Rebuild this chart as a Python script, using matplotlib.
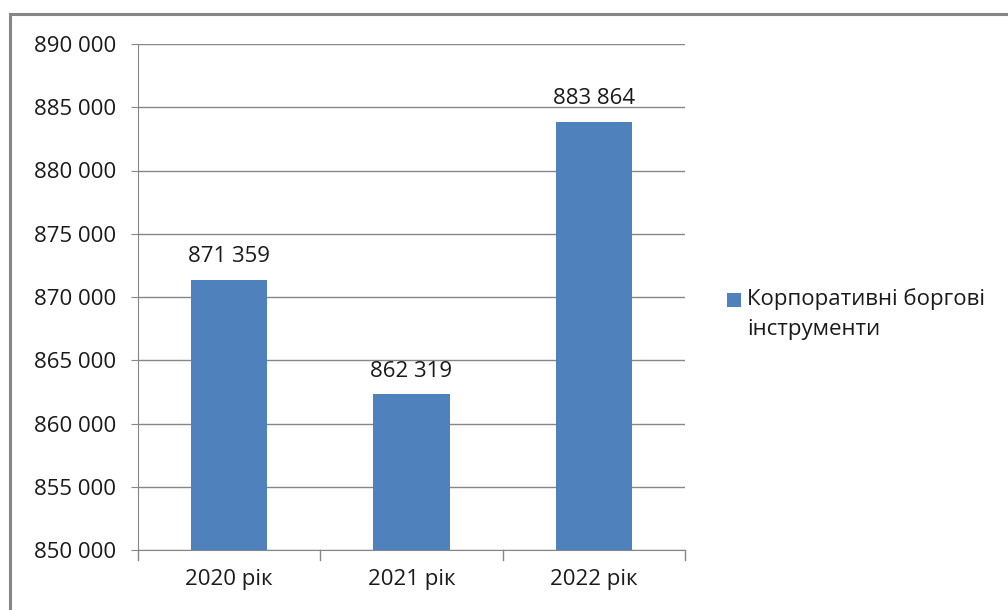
import matplotlib.pyplot as plt
import matplotlib.patches as patches

# Дані
roky = ['2020 рік', '2021 рік', '2022 рік']
znachennia = [871359, 862319, 883864]
seriia = 'Корпоративні боргові\nінструменти'
y_tiky = [850000, 855000, 860000, 865000, 870000, 875000, 880000, 885000, 890000]

plt.rcParams['font.family'] = ['Open Sans', 'DejaVu Sans']
sirij = '#868686'
sinij = '#4F81BD'
tekst = '#1a1a1a'
rozmir = 16

def formatuvaty(v):
    return f'{v:,}'.replace(',', ' ')

fig = plt.figure(figsize=(10.08, 6.1), dpi=100)
ax = fig.add_axes([138 / 1008, 1 - 550 / 610, (685 - 138) / 1008, (550 - 44) / 610])

# Рамка діаграми
ramka = patches.Rectangle((10 / 1008, -0.05), 1.2, 1 - 14 / 610 + 0.05,
                          transform=fig.transFigure, fill=False,
                          edgecolor=sirij, linewidth=2.2, clip_on=False)
fig.patches.append(ramka)

x = range(len(roky))
stovpci = ax.bar(x, znachennia, width=0.42, color=sinij, zorder=3, label=seriia)

for xi, v in zip(x, znachennia):
    ax.annotate(formatuvaty(v), (xi, v), xytext=(0, 9), textcoords='offset points',
                ha='center', va='bottom', fontsize=rozmir, color=tekst)

ax.set_ylim(850000, 890000)
ax.set_xlim(-0.5, 2.5)
ax.set_yticks(y_tiky)
ax.set_yticklabels([formatuvaty(v) for v in y_tiky], fontsize=rozmir, color=tekst)
ax.set_xticks(x)
ax.set_xticklabels(roky, fontsize=rozmir, color=tekst)
ax.tick_params(axis='x', length=0, pad=14)
ax.tick_params(axis='y', length=5, color=sirij, pad=11)

# Поділки між категоріями
for b in [-0.5, 0.5, 1.5, 2.5]:
    ax.plot([b, b], [0, -0.019], transform=ax.get_xaxis_transform(), color=sirij,
            linewidth=1, clip_on=False)

ax.grid(axis='y', color=sirij, linewidth=1, zorder=0)
for s in ['top', 'right']:
    ax.spines[s].set_visible(False)
ax.spines['left'].set_color(sirij)
ax.spines['bottom'].set_color(sirij)

# Легенда: квадрат навпроти першого рядка підпису
fig.patches.append(patches.Rectangle((727 / 1008, 1 - 307 / 610), 14 / 1008, 14 / 610,
                                     transform=fig.transFigure, facecolor=sinij,
                                     edgecolor='none'))
fig.text(747 / 1008, 1 - 288 / 610, seriia, ha='left', va='top', fontsize=rozmir,
         color=tekst, linespacing=1.6)

fig.savefig('out.png', dpi=100)
